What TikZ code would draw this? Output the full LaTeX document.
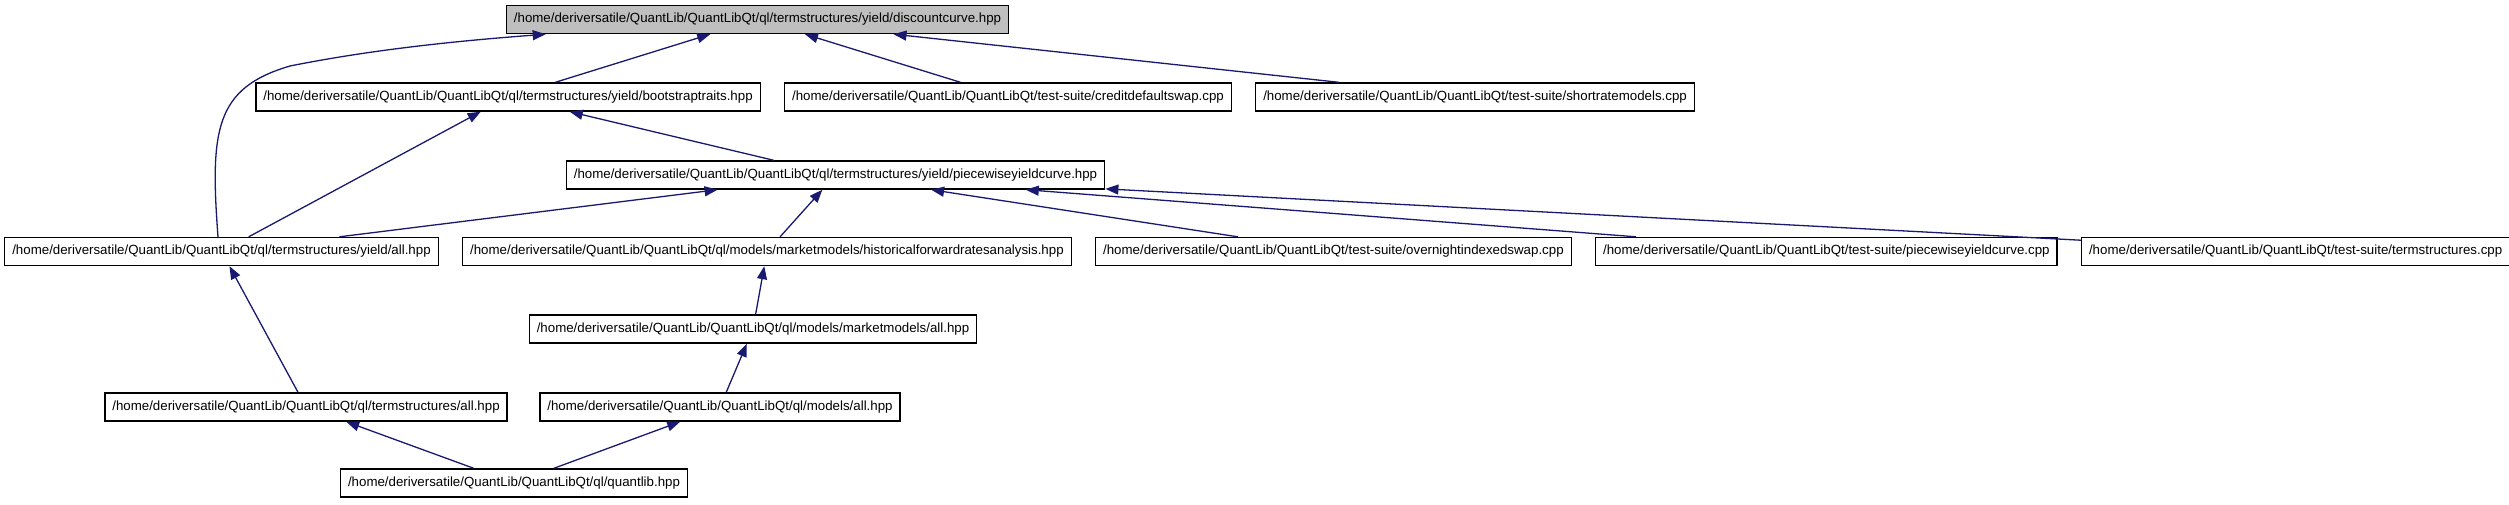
\documentclass[tikz,border=0pt]{standalone}
\usepackage{fontspec}
\setmainfont{Liberation Sans}
\usetikzlibrary{arrows.meta,positioning,calc}
\definecolor{dxnavy}{HTML}{191970}
\definecolor{dxgray}{HTML}{BFBFBF}

\begin{document}
\begin{tikzpicture}[x=1pt,y=-1pt,node distance=23pt,
    f/.style={draw=black,line width=1.4pt,fill=white,minimum height=28pt,
      inner xsep=7.5pt,inner ysep=0pt,font=\fontsize{13.3}{16}\selectfont},
    r/.style={f,fill=dxgray},
    e/.style={-{Triangle[length=13pt,width=10pt]},line width=1.3pt,dxnavy}]
    \useasboundingbox (0,0) rectangle (2509,504);
    % top
    \node[r] (dc) at (757.5,19.5) {/home/deriversatile/QuantLib/QuantLibQt/ql/termstructures/yield/discountcurve.hpp};
    % row 1
    \node[f] (bt) at (508,97) {/home/deriversatile/QuantLib/QuantLibQt/ql/termstructures/yield/bootstraptraits.hpp};
    \node[f,right=of bt] (cds) {/home/deriversatile/QuantLib/QuantLibQt/test-suite/creditdefaultswap.cpp};
    \node[f,right=of cds] (srm) {/home/deriversatile/QuantLib/QuantLibQt/test-suite/shortratemodels.cpp};
    % row 2
    \node[f] (pwh) at (835.5,175) {/home/deriversatile/QuantLib/QuantLibQt/ql/termstructures/yield/piecewiseyieldcurve.hpp};
    % row 3
    \node[f] (ya) at (221.5,251.5) {/home/deriversatile/QuantLib/QuantLibQt/ql/termstructures/yield/all.hpp};
    \node[f,right=of ya] (hfr) {/home/deriversatile/QuantLib/QuantLibQt/ql/models/marketmodels/historicalforwardratesanalysis.hpp};
    \node[f,right=of hfr] (ois) {/home/deriversatile/QuantLib/QuantLibQt/test-suite/overnightindexedswap.cpp};
    \node[f,right=of ois] (pwc) {/home/deriversatile/QuantLib/QuantLibQt/test-suite/piecewiseyieldcurve.cpp};
    \node[f,right=of pwc] (tsc) {/home/deriversatile/QuantLib/QuantLibQt/test-suite/termstructures.cpp};
    % rows 4-6
    \node[f] (mma) at (753,329) {/home/deriversatile/QuantLib/QuantLibQt/ql/models/marketmodels/all.hpp};
    \node[f] (tsa) at (306,407) {/home/deriversatile/QuantLib/QuantLibQt/ql/termstructures/all.hpp};
    \node[f] (ma) at (720,407) {/home/deriversatile/QuantLib/QuantLibQt/ql/models/all.hpp};
    \node[f] (qh) at (514,483) {/home/deriversatile/QuantLib/QuantLibQt/ql/quantlib.hpp};

    \draw[e] ($(ya.north)+(-3.5,0)$) .. controls (210,130) and (215,88) .. (290,66)
      .. controls (380,48) and (470,40) .. ($(dc.south west)+(40,0)$);
    \draw[e] (bt) -- (dc);
    \draw[e] (cds) -- (dc);
    \draw[e] (srm) -- (dc);
    \draw[e] (pwh) -- (bt);
    \draw[e] (ya) -- (bt);
    \draw[e] (ya) -- (pwh);
    \draw[e] (hfr) -- (pwh);
    \draw[e] (ois) -- (pwh);
    \draw[e] (pwc) -- (pwh);
    \draw[e] (tsc) -- (pwh);
    \draw[e] (mma) -- (hfr);
    \draw[e] (ma) -- (mma);
    \draw[e] (tsa) -- (ya);
    \draw[e] (qh) -- (tsa);
    \draw[e] (qh) -- (ma);
  \end{tikzpicture}
\end{document}
